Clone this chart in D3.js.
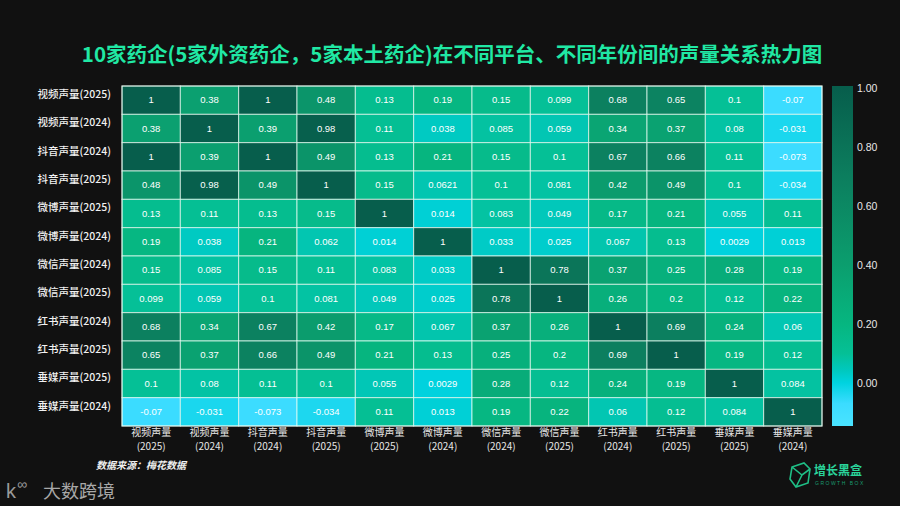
<!DOCTYPE html>
<html lang="zh">
<head>
<meta charset="UTF-8">
<title>声量关系热力图</title>
<style>
  body { margin: 0; background: #111111; }
  svg { display: block; }
</style>
</head>
<body>
<div id="chart"></div>
<script src="https://d3js.org/d3.v7.min.js"></script>
<script>
const WIDTH = 900;
const HEIGHT = 506;
const FONT = "'Noto Sans CJK SC', 'Noto Sans', sans-serif";

const labels = [
  "视频声量(2025)", "视频声量(2024)", "抖音声量(2024)", "抖音声量(2025)",
  "微博声量(2025)", "微博声量(2024)", "微信声量(2024)", "微信声量(2025)",
  "红书声量(2024)", "红书声量(2025)", "垂媒声量(2025)", "垂媒声量(2024)"
];

const corr = [
  [1, 0.38, 1, 0.48, 0.13, 0.19, 0.15, 0.099, 0.68, 0.65, 0.1, -0.07],
  [0.38, 1, 0.39, 0.98, 0.11, 0.038, 0.085, 0.059, 0.34, 0.37, 0.08, -0.031],
  [1, 0.39, 1, 0.49, 0.13, 0.21, 0.15, 0.1, 0.67, 0.66, 0.11, -0.073],
  [0.48, 0.98, 0.49, 1, 0.15, 0.0621, 0.1, 0.081, 0.42, 0.49, 0.1, -0.034],
  [0.13, 0.11, 0.13, 0.15, 1, 0.014, 0.083, 0.049, 0.17, 0.21, 0.055, 0.11],
  [0.19, 0.038, 0.21, 0.062, 0.014, 1, 0.033, 0.025, 0.067, 0.13, 0.0029, 0.013],
  [0.15, 0.085, 0.15, 0.11, 0.083, 0.033, 1, 0.78, 0.37, 0.25, 0.28, 0.19],
  [0.099, 0.059, 0.1, 0.081, 0.049, 0.025, 0.78, 1, 0.26, 0.2, 0.12, 0.22],
  [0.68, 0.34, 0.67, 0.42, 0.17, 0.067, 0.37, 0.26, 1, 0.69, 0.24, 0.06],
  [0.65, 0.37, 0.66, 0.49, 0.21, 0.13, 0.25, 0.2, 0.69, 1, 0.19, 0.12],
  [0.1, 0.08, 0.11, 0.1, 0.055, 0.0029, 0.28, 0.12, 0.24, 0.19, 1, 0.084],
  [-0.07, -0.031, -0.073, -0.034, 0.11, 0.013, 0.19, 0.22, 0.06, 0.12, 0.084, 1]
];

const colorTicks = [0, 0.2, 0.4, 0.6, 0.8, 1.0];

// colour stops
const stopValues = [-0.146, -0.07, 0, 0.04, 0.1, 0.2, 0.4, 0.7, 1.0];
const stopColors = ["#4ae3ff", "#3bdcff", "#00d3e0", "#00c9c0", "#05c096", "#06b680", "#0b9e6e", "#0c7e5e", "#075e4c"];

const color = d3.scaleLinear().domain(stopValues).range(stopColors).clamp(true);

const cells = [];
corr.forEach((row, i) => row.forEach((v, j) => cells.push({ r: labels[i], c: labels[j], v })));

const svg = d3.select("#chart").append("svg")
  .attr("width", WIDTH).attr("height", HEIGHT)
  .style("background", "#111111");

// title
svg.append("text")
  .attr("x", 452).attr("y", 62)
  .attr("text-anchor", "middle")
  .attr("fill", "#20e8a4")
  .attr("font-family", FONT)
  .attr("font-weight", "bold")
  .attr("font-size", 20.5)
  .text("10家药企(5家外资药企，5家本土药企)在不同平台、不同年份间的声量关系热力图");

const x = d3.scaleBand().domain(labels).range([122, 822]);
const y = d3.scaleBand().domain(labels).range([86, 426]);

const g = svg.append("g");

g.selectAll("rect.cell")
  .data(cells)
  .join("rect")
  .attr("class", "cell")
  .attr("x", d => x(d.c))
  .attr("y", d => y(d.r))
  .attr("width", x.bandwidth())
  .attr("height", y.bandwidth())
  .attr("fill", d => color(d.v))
  .attr("stroke", "rgba(235,255,245,0.75)")
  .attr("stroke-width", 1);

g.selectAll("text.val")
  .data(cells)
  .join("text")
  .attr("class", "val")
  .attr("x", d => x(d.c) + x.bandwidth() / 2)
  .attr("y", d => y(d.r) + y.bandwidth() / 2)
  .attr("dy", "0.35em")
  .attr("text-anchor", "middle")
  .attr("fill", "#ffffff")
  .attr("font-family", "'Liberation Sans', Arial, sans-serif")
  .attr("font-size", 9.5)
  .text(d => String(d.v));

// outer frame
g.append("rect")
  .attr("x", 122).attr("y", 86)
  .attr("width", 700).attr("height", 340)
  .attr("fill", "none")
  .attr("stroke", "rgba(235,255,245,0.8)")
  .attr("stroke-width", 1);

// row labels
svg.selectAll("text.ylab")
  .data(labels)
  .join("text")
  .attr("class", "ylab")
  .attr("x", 111)
  .attr("y", d => y(d) + y.bandwidth() / 2 - 6)
  .attr("dy", "0.35em")
  .attr("text-anchor", "end")
  .attr("fill", "#f2f2f2")
  .attr("font-family", FONT)
  .attr("font-weight", 500)
  .attr("font-size", 10.5)
  .text(d => d);

// column labels (two lines)
svg.selectAll("text.xlab1")
  .data(labels)
  .join("text")
  .attr("class", "xlab1")
  .attr("x", d => x(d) + x.bandwidth() / 2)
  .attr("y", 436)
  .attr("text-anchor", "middle")
  .attr("fill", "#e6e6e6")
  .attr("font-family", FONT)
  .attr("font-size", 10)
  .text(d => d.split("(")[0]);
svg.selectAll("text.xlab2")
  .data(labels)
  .join("text")
  .attr("class", "xlab2")
  .attr("x", d => x(d) + x.bandwidth() / 2)
  .attr("y", 449.5)
  .attr("text-anchor", "middle")
  .attr("fill", "#e6e6e6")
  .attr("font-family", FONT)
  .attr("font-size", 10)
  .text(d => "(" + d.split("(")[1]);

// colour bar
const cbY = d3.scaleLinear().domain([-0.146, 1.007]).range([426, 86]);
const defs = svg.append("defs");
const grad = defs.append("linearGradient")
  .attr("id", "cbar").attr("x1", 0).attr("y1", 1).attr("x2", 0).attr("y2", 0);
grad.selectAll("stop")
  .data(stopValues)
  .join("stop")
  .attr("offset", d => (d - cbY.domain()[0]) / (cbY.domain()[1] - cbY.domain()[0]))
  .attr("stop-color", d => color(d));

svg.append("rect")
  .attr("x", 832).attr("y", 86)
  .attr("width", 21).attr("height", 340)
  .attr("fill", "url(#cbar)");

const cbAxis = svg.append("g")
  .attr("transform", "translate(853,0)")
  .call(d3.axisRight(cbY).tickValues(colorTicks).tickFormat(d3.format(".2f")).tickSize(0).tickPadding(4));
cbAxis.select(".domain").remove();
cbAxis.selectAll("text")
  .attr("fill", "#e8e8e8")
  .attr("font-family", "'Liberation Sans', Arial, sans-serif")
  .attr("font-size", 10.5);

// source note
svg.append("text")
  .attr("x", 96).attr("y", 469)
  .attr("fill", "#f0f0f0")
  .attr("font-family", FONT)
  .attr("font-weight", "bold")
  .attr("font-style", "italic")
  .attr("font-size", 10)
  .text("数据来源：梅花数据");

// bottom-left watermark
svg.append("text")
  .attr("x", 6).attr("y", 498)
  .attr("fill", "#9a9a9a")
  .attr("font-family", "'Liberation Sans', Arial, sans-serif")
  .attr("font-size", 20)
  .text("k");
svg.append("text")
  .attr("x", 17).attr("y", 489)
  .attr("fill", "#9a9a9a")
  .attr("font-family", "'Liberation Sans', Arial, sans-serif")
  .attr("font-size", 14)
  .text("∞");
svg.append("text")
  .attr("x", 43).attr("y", 498)
  .attr("fill", "#a8a8a8")
  .attr("font-family", FONT)
  .attr("font-size", 18)
  .text("大数跨境");

// bottom-right logo
const logo = svg.append("g").attr("transform", "translate(790,463)");
logo.append("path")
  .attr("d", "M2,4 L14,0 L20,6 L18,20 L6,24 L0,16 Z M2,4 L12,12 L20,6 M12,12 L6,24")
  .attr("fill", "none")
  .attr("stroke", "#1fbf86")
  .attr("stroke-width", 1.6);
logo.append("text")
  .attr("x", 24).attr("y", 12)
  .attr("fill", "#2ad49a")
  .attr("font-family", FONT)
  .attr("font-weight", "bold")
  .attr("font-size", 12)
  .text("增长黑盒");
logo.append("text")
  .attr("x", 25).attr("y", 22)
  .attr("fill", "#1a9c70")
  .attr("font-family", "'Liberation Sans', Arial, sans-serif")
  .attr("font-size", 5)
  .attr("letter-spacing", 1.5)
  .text("GROWTH BOX");
</script>
</body>
</html>
